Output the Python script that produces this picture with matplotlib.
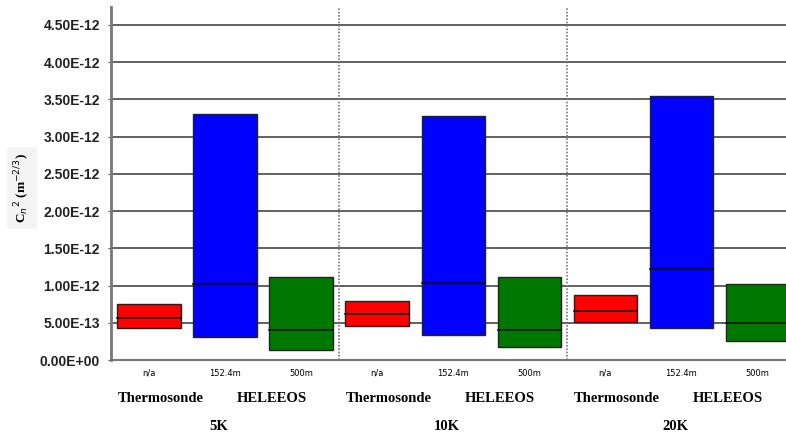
import matplotlib
matplotlib.use("Agg")
import matplotlib.pyplot as plt

# Cn2 box values (units of 1e-12 m^-2/3)
groups = ["5K", "10K", "20K"]
sources = ["Thermosonde", "HELEEOS"]
sub_labels = ["n/a", "152.4m", "500m"]
colors = ["#ff0000", "#0000ff", "#007800"]

low = [0.43, 0.31, 0.134, 0.46, 0.34, 0.17, 0.51, 0.43, 0.255]
mid = [0.565, 1.02, 0.40, 0.62, 1.04, 0.41, 0.66, 1.22, 0.50]
high = [0.753, 3.31, 1.12, 0.79, 3.27, 1.12, 0.875, 3.55, 1.02]

yticks = [0, 0.5, 1.0, 1.5, 2.0, 2.5, 3.0, 3.5, 4.0, 4.5]
ytick_labels = ["0.00E+00", "5.00E-13", "1.00E-12", "1.50E-12", "2.00E-12",
                "2.50E-12", "3.00E-12", "3.50E-12", "4.00E-12", "4.50E-12"]

fig = plt.figure(figsize=(7.86, 4.37), dpi=100)
ax = fig.add_axes([0.1412, 0.176, 0.8588, 0.808])

xs = list(range(len(low)))
for i, x in enumerate(xs):
    c = colors[i % 3]
    ax.bar(x, high[i] - low[i], bottom=low[i], width=0.83, color=c,
           edgecolor="#222222", linewidth=1.0, zorder=3)
    ax.plot([x - 0.415, x + 0.415], [mid[i], mid[i]], color="#111111",
            linewidth=1.2, zorder=4)

ax.set_xlim(-0.5, 8.38)
ax.set_ylim(0, 4.74)
ax.set_yticks(yticks)
ax.set_yticklabels(ytick_labels, fontweight="bold", fontsize=10,
                   family="Liberation Sans", color="#222222")
ax.tick_params(axis="y", length=2, width=0.8, color="#555555", pad=6)
ax.set_xticks([])
ax.yaxis.grid(True, color="#555555", linewidth=1.3, zorder=1)
ax.set_axisbelow(True)
for s in ["top", "right"]:
    ax.spines[s].set_visible(False)
ax.spines["left"].set_color("#777777")
ax.spines["left"].set_linewidth(2)
ax.spines["bottom"].set_color("#777777")
ax.spines["bottom"].set_linewidth(1.5)

# dotted group separators
for sep in [2.5, 5.5]:
    ax.axvline(sep, color="#777777", linestyle=(0, (1, 1)), linewidth=1.2,
               zorder=2)

# x labels
for i, x in enumerate(xs):
    ax.text(x, -0.18, sub_labels[i % 3], ha="center", va="center",
            fontsize=6, family="Liberation Sans Narrow")
for g, name in enumerate(groups):
    base = 3 * g
    ax.text(base + 0.15, -0.52, sources[0], ha="center", va="center",
            fontsize=10.5, fontweight="bold", family="Liberation Serif")
    ax.text(base + 1.62, -0.52, sources[1], ha="center", va="center",
            fontsize=10.5, fontweight="bold", family="Liberation Serif")
    ax.text(base + 0.92, -0.89, name, ha="center", va="center",
            fontsize=10.5, fontweight="bold", family="Liberation Serif")

fig.text(0.028, 0.57, r"C$_n$$^2$ (m$^{-2/3}$)", rotation=90, ha="center",
         va="center", fontsize=9.5, fontweight="bold", family="Liberation Serif",
         bbox=dict(facecolor="#f4f4f4", edgecolor="none", pad=4))

fig.savefig("out.png", dpi=100)
